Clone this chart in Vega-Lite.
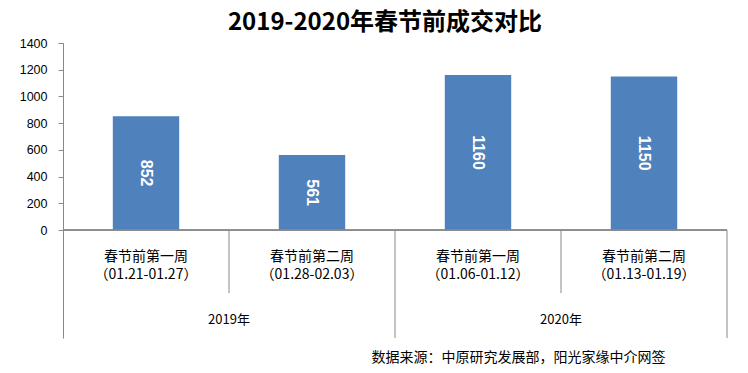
{
  "$schema": "https://vega.github.io/schema/vega-lite/v6.json",
  "autosize": "none",
  "width": 664,
  "height": 295,
  "padding": {"left": 63, "top": 43, "right": 21, "bottom": 35},
  "background": "white",
  "title": {
    "text": "2019-2020年春节前成交对比",
    "font": "Noto Sans CJK SC",
    "fontSize": 24,
    "fontWeight": "bold",
    "color": "#000000",
    "anchor": "middle",
    "frame": "group",
    "offset": 2,
    "dx": -10
  },
  "config": {
    "view": {"stroke": null},
    "text": {"font": "Noto Sans CJK SC"}
  },
  "data": {
    "values": [
      {"cat": "2019-1", "year": "2019年", "week": "春节前第一周", "date": "（01.21-01.27）", "value": 852},
      {"cat": "2019-2", "year": "2019年", "week": "春节前第二周", "date": "（01.28-02.03）", "value": 561},
      {"cat": "2020-1", "year": "2020年", "week": "春节前第一周", "date": "（01.06-01.12）", "value": 1160},
      {"cat": "2020-2", "year": "2020年", "week": "春节前第二周", "date": "（01.13-01.19）", "value": 1150}
    ]
  },
  "layer": [
    {
      "mark": {"type": "bar", "width": {"band": 0.4}, "color": "#4F81BD"},
      "encoding": {
        "x": {
          "field": "cat",
          "type": "nominal",
          "sort": null,
          "scale": {"paddingInner": 0, "paddingOuter": 0},
          "title": "数据来源：中原研究发展部，阳光家缘中介网签",
          "axis": {
            "labels": false,
            "ticks": false,
            "domain": false,
            "grid": false,
            "titleFont": "Noto Sans CJK SC",
            "titleFontSize": 14,
            "titleFontWeight": "normal",
            "titleColor": "#000000",
            "titleAlign": "right",
            "titleAnchor": "start",
            "titleX": 602,
            "titleY": 12,
            "titleBaseline": "top"
          }
        },
        "y": {
          "field": "value",
          "type": "quantitative",
          "scale": {"domain": [-808, 1400], "nice": false, "zero": false},
          "title": null,
          "axis": {
            "values": [0, 200, 400, 600, 800, 1000, 1200, 1400],
            "format": "d",
            "grid": false,
            "domainColor": "#888888",
            "tickColor": "#888888",
            "tickSize": 5,
            "labelPadding": 11,
            "labelFont": "Liberation Sans",
            "labelFontSize": 12.5,
            "labelColor": "#000000"
          }
        }
      }
    },
    {
      "mark": {"type": "rule", "color": "#888888"},
      "encoding": {"y": {"datum": 0}}
    },
    {
      "transform": [{"filter": "datum.week === '春节前第二周'"}],
      "mark": {"type": "rule", "color": "#888888"},
      "encoding": {
        "x": {"field": "cat", "type": "nominal", "sort": null, "bandPosition": 0},
        "y": {"datum": 0},
        "y2": {"datum": -472}
      }
    },
    {
      "transform": [{"filter": "datum.week === '春节前第二周'"}],
      "mark": {"type": "rule", "color": "#888888"},
      "encoding": {
        "x": {"field": "cat", "type": "nominal", "sort": null, "bandPosition": 1},
        "y": {"datum": 0},
        "y2": {"datum": -808}
      }
    },
    {
      "mark": {"type": "text", "fontSize": 14, "color": "#000000", "baseline": "middle"},
      "encoding": {
        "x": {"field": "cat", "type": "nominal", "sort": null},
        "y": {"datum": -202},
        "text": {"field": "week"}
      }
    },
    {
      "mark": {"type": "text", "fontSize": 14, "color": "#000000", "baseline": "middle"},
      "encoding": {
        "x": {"field": "cat", "type": "nominal", "sort": null},
        "y": {"datum": -337},
        "text": {"field": "date"}
      }
    },
    {
      "transform": [{"filter": "datum.week === '春节前第一周'"}],
      "mark": {"type": "text", "fontSize": 13, "color": "#000000", "baseline": "middle"},
      "encoding": {
        "x": {"field": "cat", "type": "nominal", "sort": null, "bandPosition": 1},
        "y": {"datum": -674},
        "text": {"field": "year"}
      }
    },
    {
      "transform": [{"calculate": "datum.value / 2", "as": "mid"}],
      "mark": {"type": "text", "angle": 90, "font": "Liberation Sans", "fontSize": 16, "fontWeight": "bold", "color": "#FFFFFF", "baseline": "middle", "align": "center"},
      "encoding": {
        "x": {"field": "cat", "type": "nominal", "sort": null},
        "y": {"field": "mid", "type": "quantitative"},
        "text": {"field": "value", "type": "quantitative"}
      }
    }
  ]
}
